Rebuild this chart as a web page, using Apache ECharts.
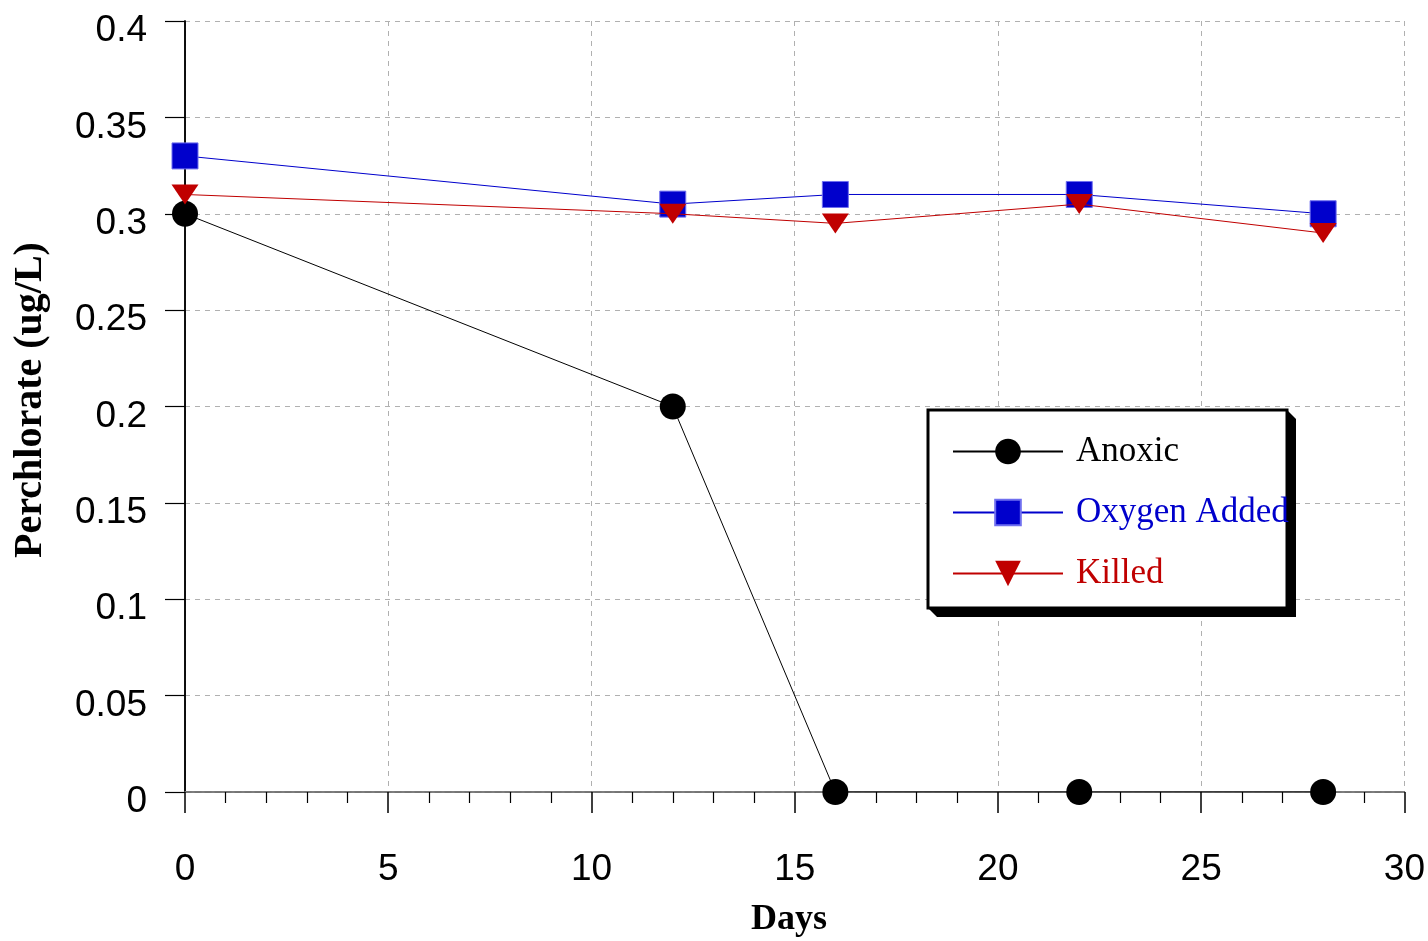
<!DOCTYPE html>
<html>
<head>
<meta charset="utf-8">
<title>Perchlorate over time</title>
<script src="https://cdn.jsdelivr.net/npm/echarts@6/dist/echarts.min.js"></script>
<style>
  html, body { margin: 0; padding: 0; background: #fff; }
  #chart { width: 1428px; height: 941px; }
</style>
</head>
<body>
<div id="chart"></div>
<script>
// Sampling days
const days = [0, 12, 16, 22, 28];

// Perchlorate concentration (ug/L) per treatment
const anoxic = [0.30, 0.20, 0, 0, 0];
const oxygenAdded = [0.33, 0.305, 0.31, 0.31, 0.30];
const killed = [0.31, 0.30, 0.295, 0.305, 0.29];

const seriesNames = ['Anoxic', 'Oxygen Added', 'Killed'];
const seriesColors = ['#000000', '#0000CC', '#C00000'];

const xTitle = 'Days';
const yTitle = 'Perchlorate (ug/L)';

function pairs(values) {
  return days.map((d, i) => [d, values[i]]);
}

const chart = echarts.init(document.getElementById('chart'), null, { renderer: 'canvas' });

const labelFont = {
  fontFamily: '"Liberation Sans", Arial, sans-serif',
  fontSize: 37,
  color: '#000'
};

const downTriangle = 'path://M0,0 L2,0 L1,1.5 Z';

// legend frame: white box with a hard drop shadow on the right and bottom
const box = { x: 928, y: 410, w: 359, h: 198, s: 9 };

chart.setOption({
  backgroundColor: '#ffffff',
  animation: false,
  grid: { left: 185, right: 21, top: 21, bottom: 149, containLabel: false },
  xAxis: [{
    type: 'value',
    min: 0,
    max: 30,
    interval: 5,
    axisLine: { show: true, onZero: false, lineStyle: { color: '#555', width: 1.5 } },
    axisTick: { show: true, inside: false, length: 21, lineStyle: { color: '#000', width: 1.5 } },
    minorTick: { show: true, splitNumber: 5, length: 11, lineStyle: { color: '#000', width: 1.2 } },
    splitLine: { show: true, lineStyle: { color: '#b0b0b0', type: [5, 5], width: 1 } },
    axisLabel: Object.assign({ margin: 59 }, labelFont)
  }, {
    // top frame edge
    type: 'value', position: 'top', min: 0, max: 30,
    axisLine: { show: true, lineStyle: { color: '#777', type: [6, 4], width: 1.5 } },
    axisTick: { show: false }, axisLabel: { show: false }, splitLine: { show: false }
  }],
  yAxis: [{
    type: 'value',
    min: 0,
    max: 0.4,
    interval: 0.05,
    axisLine: { show: true, onZero: false, lineStyle: { color: '#000', width: 1.5 } },
    axisTick: { show: true, inside: false, length: 20, lineStyle: { color: '#000', width: 1.2 } },
    splitLine: { show: true, lineStyle: { color: '#b0b0b0', type: [5, 5], width: 1 } },
    axisLabel: Object.assign({
      margin: 38,
      verticalAlign: 'top',
      lineHeight: 20,
      formatter: v => String(parseFloat(v.toFixed(2)))
    }, labelFont)
  }, {
    // right frame edge
    type: 'value', position: 'right', min: 0, max: 0.4,
    axisLine: { show: true, lineStyle: { color: '#000', width: 1.5 } },
    axisTick: { show: false }, axisLabel: { show: false }, splitLine: { show: false }
  }],
  legend: {
    orient: 'vertical',
    left: box.x,
    top: box.y,
    padding: [24, 0, 0, 24],
    itemWidth: 110,
    itemHeight: 32,
    itemGap: 26,
    z: 10,
    textStyle: {
      fontFamily: '"Liberation Serif", "Times New Roman", serif',
      fontSize: 35,
      lineHeight: 34,
      padding: [0, 0, 0, 8]
    },
    data: seriesNames.map((n, i) => ({ name: n, textStyle: { color: seriesColors[i] } }))
  },
  series: [
    {
      name: seriesNames[0],
      type: 'line',
      data: pairs(anoxic),
      symbol: 'circle',
      symbolSize: 26,
      color: seriesColors[0],
      lineStyle: { color: '#000', width: 1 },
      itemStyle: { color: '#000' },
      z: 3
    },
    {
      name: seriesNames[1],
      type: 'line',
      data: pairs(oxygenAdded),
      symbol: 'rect',
      symbolSize: 26,
      color: seriesColors[1],
      lineStyle: { color: '#0000CC', width: 1 },
      itemStyle: { color: '#0000CC', borderColor: '#6f6fef', borderWidth: 1 },
      z: 2
    },
    {
      name: seriesNames[2],
      type: 'line',
      data: pairs(killed),
      symbol: downTriangle,
      symbolSize: [27, 20],
      color: seriesColors[2],
      lineStyle: { color: '#C00000', width: 1 },
      itemStyle: { color: '#C00000' },
      z: 4
    }
  ],
  graphic: [
    {
      type: 'polygon',
      z: 5,
      shape: {
        points: [
          [box.x + box.w, box.y],
          [box.x + box.w + box.s, box.y + box.s],
          [box.x + box.w + box.s, box.y + box.h + box.s],
          [box.x + box.s, box.y + box.h + box.s],
          [box.x, box.y + box.h]
        ]
      },
      style: { fill: '#000' }
    },
    {
      type: 'rect',
      z: 6,
      shape: { x: box.x, y: box.y, width: box.w, height: box.h },
      style: { fill: '#fff', stroke: '#000', lineWidth: 3 }
    },
    {
      type: 'text',
      x: 789,
      y: 920,
      style: {
        text: xTitle,
        font: 'bold 36px "Liberation Serif", "Times New Roman", serif',
        fill: '#000',
        textAlign: 'center',
        textVerticalAlign: 'middle'
      }
    },
    {
      type: 'text',
      x: 31,
      y: 400,
      rotation: Math.PI / 2,
      style: {
        text: yTitle,
        font: 'bold 40px "Liberation Serif", "Times New Roman", serif',
        fill: '#000',
        textAlign: 'center',
        textVerticalAlign: 'middle'
      }
    }
  ]
});
</script>
</body>
</html>
